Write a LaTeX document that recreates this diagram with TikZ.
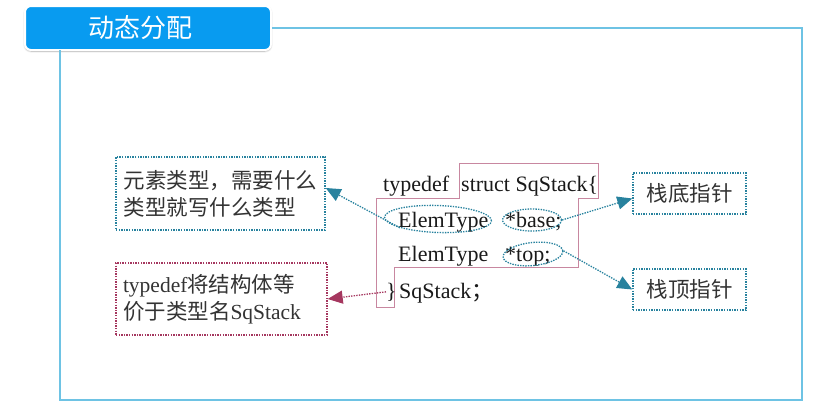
\documentclass[tikz,border=0pt]{standalone}
\usepackage{fontspec}
\setmainfont{Liberation Serif}
\newfontfamily\cjk{Noto Sans CJK SC}
\usetikzlibrary{arrows.meta,shapes.geometric,shadows.blur}
\definecolor{frameblue}{RGB}{110,195,228}
\definecolor{titleblue}{RGB}{8,155,240}
\definecolor{dotteal}{RGB}{40,130,158}
\definecolor{dotred}{RGB}{165,55,95}
\definecolor{codepink}{RGB}{200,135,160}
\tikzstyle{title}=[rounded corners=6pt,fill=titleblue,draw=white,line width=2pt,
  blur shadow={shadow xshift=0pt,shadow yshift=-1pt,shadow blur steps=6},
  minimum width=246pt,minimum height=44pt,text=white,font=\cjk\fontsize{26}{30}\selectfont]
\tikzstyle{frame}=[draw=frameblue,line width=1.3pt]
\tikzstyle{note}=[line width=1.4pt,dash pattern=on 1.4pt off 1.2pt,align=left,
  text=black!80,font=\fontsize{21.5}{27}\selectfont,inner sep=0pt]
\tikzstyle{code}=[font=\fontsize{22}{26}\selectfont,inner sep=0pt,text=black!90]
\tikzstyle{blob}=[ellipse,draw=dotteal,line width=1.3pt,dash pattern=on 1.4pt off 1.2pt,inner sep=0pt]
\tikzstyle{pointer}=[line width=1.3pt,dash pattern=on 1.4pt off 1.2pt,
  -{Triangle[length=15pt,width=13pt]}]

\begin{document}
\begin{tikzpicture}[x=1pt,y=-1pt]
	\useasboundingbox (0,0) rectangle (822,415);
	\node[title] (ttl) at (148,28) {动态分配\hspace*{16pt}};
	\draw[frame] (ttl.east) -| (802,400) -| (60,50);
	
	% code block
	\draw[codepink,line width=1pt] (376,198) -- (459,198) -- (459,163) -- (598,163)
	-- (598,198) -- (578,198) -- (578,267) -- (394,267) -- (394,307) -- (376,307) -- cycle;
	\node[code,anchor=base west] (td) at (383,191) {typedef};
	\node[code,anchor=base west] (st) at (461,191) {struct SqStack\{};
	\node[code,anchor=base west] (e1) at (398,227) {ElemType};
	\node[code,anchor=base west] (ba) at (505,227) {*base;};
	\node[code,anchor=base west] (e2) at (398,261) {ElemType};
	\node[code,anchor=base west] (tp) at (505,261) {*top;};
	\node[code,anchor=base west] (br) at (386,298) {\}};
	\node[code,anchor=base west] (ss) at (399,298) {SqStack{\cjk ；}};
	
	\node[blob,minimum width=107pt,minimum height=27pt,rotate=-2] (b1) at (438,219) {};
	\node[blob,minimum width=59pt,minimum height=22pt] (b2) at (532,220) {};
	\node[blob,minimum width=60pt,minimum height=23pt,rotate=6] (b3) at (533,254) {};
	
	% notes
	\node[note,draw=dotteal,minimum width=209pt,minimum height=73pt] (lt) at (220.5,193.5)
	{\cjk 元素类型，需要什么\\\cjk 类型就写什么类型};
	\node[note,draw=dotred,minimum width=211pt,minimum height=72pt,text width=197pt] (lb) at (221.5,299)
	{typedef{\cjk 将结构体等}\\{\cjk 价于类型名}SqStack};
	\node[note,draw=dotteal,minimum width=113pt,minimum height=41pt] (rt1) at (689.5,193.5) {\cjk 栈底指针};
	\node[note,draw=dotteal,minimum width=113pt,minimum height=41pt] (rt2) at (689.5,289.5) {\cjk 栈顶指针};
	
	\draw[pointer,dotteal] (b1.195) -- (lt.3);
	\draw[pointer,dotteal] (b2.east) -- (rt1.185);
	\draw[pointer,dotteal] (b3.east) -- (rt2.west);
	\draw[pointer,dotred] (br.west) -- (lb.east);
\end{tikzpicture}
\end{document}
